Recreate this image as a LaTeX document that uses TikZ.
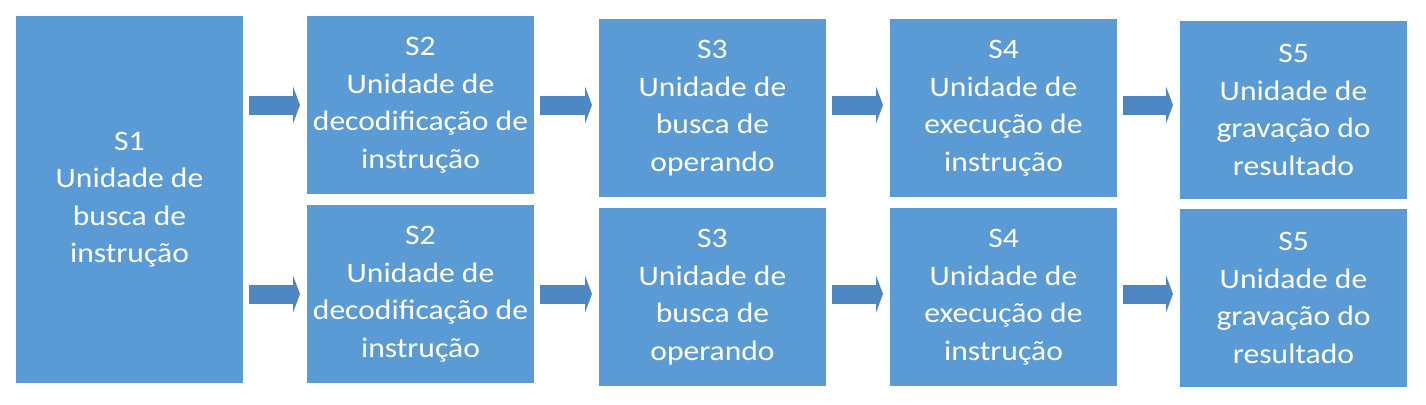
\documentclass[tikz,border=0pt]{standalone}
\usepackage{fontspec}
\setmainfont{Carlito}[FakeStretch=1.12]
\usetikzlibrary{arrows.meta,calc}
\definecolor{boxblue}{HTML}{5B9BD5}
\definecolor{arrowblue}{HTML}{4E87C1}
\begin{document}
\begin{tikzpicture}[x=1pt,y=-1pt,
  stagebox/.style={fill=boxblue, draw=none, inner sep=0pt, outer sep=0pt,
    minimum width=227pt, minimum height=178pt, anchor=north west,
    text=white, align=center, font=\fontsize{28.2}{37.5}\selectfont},
  blockarrow/.style={draw=arrowblue, line width=19pt,
    -{Triangle[length=7pt,width=37pt]}, shorten <=6pt, shorten >=7pt}]
\useasboundingbox (0,0) rectangle (1426,404);
\fill[white] (0,0) rectangle (1426,404);
% stage 1
\node[stagebox, minimum height=367pt] (s1) at (16,16) {S1\\Unidade de\\busca de\\instrução};
% stage 2
\node[stagebox] (s2a) at (307,16) {S2\\Unidade de\\decodificação de\\instrução};
\node[stagebox] (s2b) at (307,205) {S2\\Unidade de\\decodificação de\\instrução};
% stage 3
\node[stagebox] (s3a) at (599,19) {S3\\Unidade de\\busca de\\operando};
\node[stagebox] (s3b) at (599,208) {S3\\Unidade de\\busca de\\operando};
% stage 4
\node[stagebox] (s4a) at (890,19) {S4\\Unidade de\\execução de\\instrução};
\node[stagebox] (s4b) at (890,208) {S4\\Unidade de\\execução de\\instrução};
% stage 5
\node[stagebox] (s5a) at (1180,21) {S5\\Unidade de\\gravação do\\resultado};
\node[stagebox] (s5b) at (1180,209) {S5\\Unidade de\\gravação do\\resultado};
% arrows row 1
\draw[blockarrow] (s1.east |- s2a.west) -- (s2a.west);
\draw[blockarrow] (s2a.east) -- (s3a.west |- s2a.east);
\draw[blockarrow] (s3a.east |- s2a.east) -- (s4a.west |- s2a.east);
\draw[blockarrow] (s4a.east |- s2a.east) -- (s5a.west |- s2a.east);
% arrows row 2
\draw[blockarrow] (s1.east |- s2b.west) -- (s2b.west);
\draw[blockarrow] (s2b.east) -- (s3b.west |- s2b.east);
\draw[blockarrow] (s3b.east |- s2b.east) -- (s4b.west |- s2b.east);
\draw[blockarrow] (s4b.east |- s2b.east) -- (s5b.west |- s2b.east);
\end{tikzpicture}
\end{document}
